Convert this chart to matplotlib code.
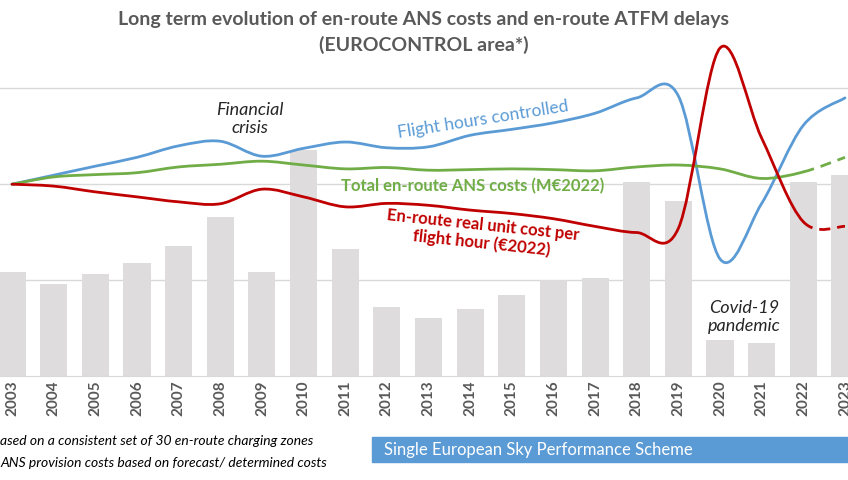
import numpy as np
import matplotlib
matplotlib.use("Agg")
import matplotlib.pyplot as plt
from matplotlib.path import Path
from matplotlib.patches import PathPatch, Rectangle

plt.rcParams['font.family'] = ['Lato', 'DejaVu Sans']

# Data (index, 2003 = 100)
years = list(range(2003, 2024))
atfm_delay = [54, 48, 53, 59, 68, 83, 54, 118, 66, 36, 30, 35, 42, 50, 51,
              101, 91, 19, 17, 101, 105]
flight_hours = [100, 104.7, 109.4, 114, 120, 122.4, 114.6, 118.7, 122, 119,
                119.5, 125.5, 128.6, 132, 137, 145, 146, 61, 90, 130.7, 145]
ans_costs = [100, 103.8, 105, 106, 109, 110.4, 112, 110, 108, 108.7, 107.3,
             107.6, 108, 107.6, 107, 109, 110, 108, 103, 106.4, 114]
unit_cost = [100, 99, 96, 93.4, 90.8, 89.8, 97.4, 93.4, 88.2, 90, 89, 86.5,
             84.7, 82, 78, 74.8, 77, 171, 124, 80.4, 78]

BLUE = "#5B9BD5"
GREEN = "#70AD47"
RED = "#C00000"
GREY_TXT = "#595959"

W, H = 848, 480


def px(x, y):
    # pixel position (from top-left) -> figure fraction
    return x / W, 1 - y / H


# Excel-like smoothed line: cubic Bezier segments through the data points
def smooth_path(x, y, start, stop):
    pts = np.column_stack([x, y]).astype(float)
    n = len(pts)
    verts = [tuple(pts[start])]
    codes = [Path.MOVETO]
    for i in range(start, stop):
        p0 = pts[max(i - 1, 0)]
        p1 = pts[i]
        p2 = pts[i + 1]
        p3 = pts[min(i + 2, n - 1)]
        c1 = p1 + (p2 - p0) / 6
        c2 = p2 - (p3 - p1) / 6
        verts += [tuple(c1), tuple(c2), tuple(p2)]
        codes += [Path.CURVE4] * 3
    return Path(verts, codes)


fig = plt.figure(figsize=(8.48, 4.8), dpi=100)
x0 = 12 - 20.8
ax = fig.add_axes([x0 / W, (H - 376) / H, 874.6 / W, 374 / H])
ax.set_xlim(2002.5, 2023.5)
ax.set_ylim(0, 195)

ax.bar(years, atfm_delay, width=0.65, color="#DEDCDC", zorder=1)

last = len(years) - 1
for vals, col, dash_end in [(flight_hours, BLUE, False),
                            (ans_costs, GREEN, True),
                            (unit_cost, RED, True)]:
    stop = last - 1 if dash_end else last
    ax.add_patch(PathPatch(smooth_path(years, vals, 0, stop), fill=False,
                           edgecolor=col, lw=2.0, zorder=3, clip_on=False,
                           capstyle='round'))
    if dash_end:
        ax.add_patch(PathPatch(smooth_path(years, vals, last - 1, last),
                               fill=False, edgecolor=col, lw=2.0, zorder=3,
                               linestyle=(0, (4, 2.5)), clip_on=False))

ax.set_yticks([50, 100, 150])
ax.yaxis.grid(True, color="#D9D9D9", lw=1)
ax.set_axisbelow(True)
ax.tick_params(axis='y', length=0, labelleft=False)
ax.set_xticks(years)
ax.set_xticklabels([str(y) for y in years], rotation=90, fontsize=11,
                   fontweight='bold', color=GREY_TXT)
ax.tick_params(axis='x', length=0, pad=3)
for s in ['top', 'left', 'right']:
    ax.spines[s].set_visible(False)
ax.spines['bottom'].set_color("#D9D9D9")

# title
fig.text(*px(424, 19), "Long term evolution of en-route ANS costs and en-route ATFM delays",
         ha='center', va='center', fontsize=14, fontweight='bold', color=GREY_TXT)
fig.text(*px(424, 45), "(EUROCONTROL area*)", ha='center', va='center',
         fontsize=14, fontweight='bold', color=GREY_TXT)

# series labels
fig.text(*px(483, 120), "Flight hours controlled", ha='center', va='center',
         rotation=9, fontsize=12.5, color=BLUE)
fig.text(*px(473, 186), "Total en-route ANS costs (M€2022)", ha='center',
         va='center', fontsize=12, fontweight='bold', color=GREEN)
fig.text(*px(482, 234), "En-route real unit cost per\nflight hour (€2022)",
         ha='center', va='center', rotation=-6, fontsize=12, fontweight='bold',
         color=RED, multialignment='center', linespacing=1.15)

# event notes
fig.text(*px(250, 119), "Financial\ncrisis", ha='center', va='center',
         fontsize=13, style='italic', color="#262626", linespacing=1.1)
fig.text(*px(744, 317), "Covid-19\npandemic", ha='center', va='center',
         fontsize=13, style='italic', color="#262626", linespacing=1.1)

# footnotes
fig.text(*px(0, 441), "ased on a consistent set of 30 en-route charging zones",
         ha='left', va='center', fontsize=10, style='italic', color='black')
fig.text(*px(0, 463), "ANS provision costs based on forecast/ determined costs",
         ha='left', va='center', fontsize=10, style='italic', color='black')

# SES box
fig.patches.append(Rectangle(px(372, 462), (W - 372) / W, 25 / H,
                             transform=fig.transFigure, color=BLUE, zorder=0))
fig.text(*px(384, 450), "Single European Sky Performance Scheme", ha='left',
         va='center', fontsize=12, color='white')

plt.savefig("out.png", dpi=100)
